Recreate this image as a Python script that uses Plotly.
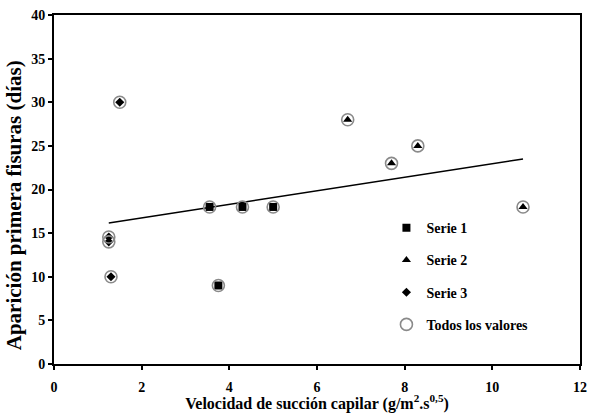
import plotly.graph_objects as go

# Data
s1_x = [3.55, 4.3, 5.0, 3.75]
s1_y = [18, 18, 18, 9]
s2_x = [6.7, 7.7, 8.3, 10.7]
s2_y = [28, 23, 25, 18]
s3_x = [1.5, 1.25, 1.25, 1.3]
s3_y = [30, 14.55, 14.0, 10]
all_x = s1_x + s2_x + s3_x
all_y = s1_y + s2_y + s3_y
trend_x = [1.25, 10.7]
trend_y = [16.15, 23.5]

x_ticks = [0, 2, 4, 6, 8, 10, 12]
y_ticks = [0, 5, 10, 15, 20, 25, 30, 35, 40]

x_title = "Velocidad de succión capilar (g/m<sup>2</sup>.s<sup>0,5</sup>)"
y_title = "Aparición primera fisuras (días)"

font_family = "Liberation Serif"

fig = go.Figure()
fig.add_trace(go.Scatter(x=trend_x, y=trend_y, mode="lines",
                         line=dict(color="black", width=1.5),
                         showlegend=False, hoverinfo="skip"))
fig.add_trace(go.Scatter(x=s1_x, y=s1_y, mode="markers", name="Serie 1",
                         legendgroup="a",
                         marker=dict(symbol="square", size=8, color="black")))
fig.add_trace(go.Scatter(x=s2_x, y=s2_y, mode="markers", name="Serie 2",
                         legendgroup="b",
                         marker=dict(symbol="triangle-up", size=8, color="black")))
fig.add_trace(go.Scatter(x=s3_x, y=s3_y, mode="markers", name="Serie 3",
                         legendgroup="c",
                         marker=dict(symbol="diamond", size=7, color="black")))
fig.add_trace(go.Scatter(x=all_x, y=all_y, mode="markers", name="Todos los valores",
                         legendgroup="d",
                         marker=dict(symbol="circle-open", size=12, color="#8a8a8a",
                                     line=dict(width=1.6, color="#8a8a8a"))))

axis_common = dict(showgrid=False, zeroline=False, showline=True, linecolor="black",
                   linewidth=2, mirror=True, ticks="outside", tickcolor="black",
                   ticklen=4, tickwidth=2, automargin=False, ticklabeloverflow="allow",
                   tickfont=dict(family=font_family, size=14, color="black", weight="bold"))

fig.update_layout(
    width=590, height=413,
    margin=dict(l=54, r=10, t=15, b=49),
    paper_bgcolor="white", plot_bgcolor="white",
    font=dict(family=font_family, color="black"),
    xaxis=dict(range=[0, 12], tickvals=x_ticks, ticktext=[str(v) for v in x_ticks],
               ticklabelstandoff=5,
               title=dict(text=x_title,
                          font=dict(family=font_family, size=16, color="black", weight="bold"),
                          standoff=2),
               **axis_common),
    yaxis=dict(range=[0, 40], tickvals=y_ticks, ticktext=[str(v) for v in y_ticks],
               **axis_common),
    annotations=[dict(text=y_title, textangle=-90, xref="paper", yref="paper",
                      x=-0.076, y=0.455, xanchor="center", yanchor="middle",
                      showarrow=False,
                      font=dict(family=font_family, size=21, color="black", weight="bold"))],
    legend=dict(x=0.632, y=0.435, xanchor="left", yanchor="top",
                bgcolor="rgba(0,0,0,0)", tracegroupgap=11,
                font=dict(family=font_family, size=14, color="black", weight="bold")),
    showlegend=True,
)

# remove the default page margin so the 590x413 figure fills the window exactly
fig.write_html("out.html", config={"displayModeBar": False},
               post_script="document.body.style.margin='0';")
